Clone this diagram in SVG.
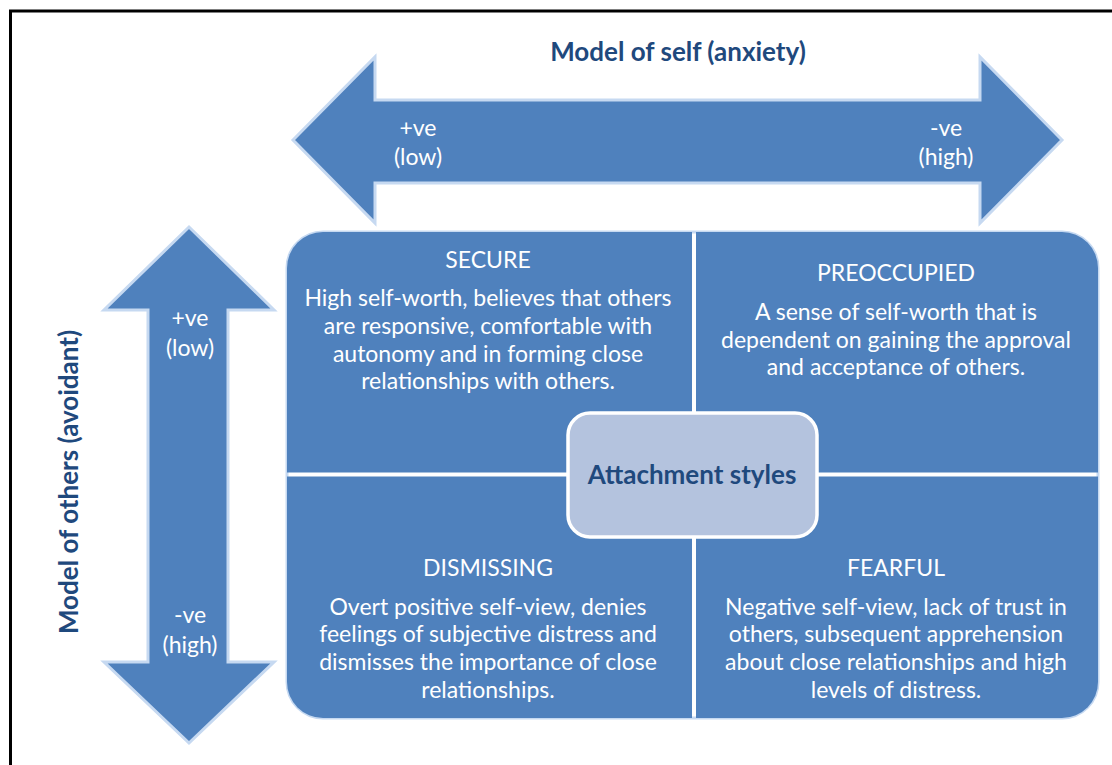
<svg xmlns="http://www.w3.org/2000/svg" width="1112" height="765" viewBox="0 0 1112 765">
  <style>
    .shape { fill: #4f81bd; stroke: #c6d9f1; stroke-width: 3; stroke-linejoin: miter; }
    .quad { fill: #4f81bd; }
    .rim { fill: none; stroke: #c6d9f1; stroke-width: 3; }
    .txt { font-family: Lato, "Liberation Sans", sans-serif; font-size: 23px; fill: #ffffff; text-anchor: middle; }
    .axis { font-family: Lato, "Liberation Sans", sans-serif; font-size: 26px; font-weight: bold; fill: #1f497d; text-anchor: middle; }
    .hub { fill: #b4c3de; stroke: #ffffff; stroke-width: 3.5; }
  </style>
  <rect width="1112" height="765" fill="#ffffff"/>
  <!-- page frame -->
  <path d="M10.5 765 V11 H1112" fill="none" stroke="#000000" stroke-width="3"/>

  <g id="connectors">
    <!-- horizontal double arrow: model of self -->
    <g id="arrow-self">
      <polygon class="shape" points="293,140 375,57 375,100 980,100 980,57 1062,140 980,223 980,183 375,183 375,223"/>
      <text class="txt" x="418" y="136">+ve</text>
      <text class="txt" x="418" y="165">(low)</text>
      <text class="txt" x="946" y="136">-ve</text>
      <text class="txt" x="946" y="165">(high)</text>
    </g>
    <!-- vertical double arrow: model of others -->
    <g id="arrow-others">
      <polygon class="shape" points="189,227 274,310 228,310 228,662 274,662 189,743 104,662 148,662 148,310 104,310"/>
      <text class="txt" x="190" y="326">+ve</text>
      <text class="txt" x="190" y="356">(low)</text>
      <text class="txt" x="190" y="623">-ve</text>
      <text class="txt" x="190" y="653">(high)</text>
    </g>
  </g>

  <text id="title-self" class="axis" x="678" y="61">Model of self (anxiety)</text>
  <text id="title-others" class="axis" transform="translate(78 482) rotate(-90)">Model of others (avoidant)</text>

  <!-- light rim around the outer edge of the four quadrants -->
  <rect class="rim" x="287" y="232" width="811" height="486" rx="36" ry="36"/>

  <g id="secure">
    <path class="quad" d="M287 472.5 V268 A36 36 0 0 1 323 232 H692 V472.5 Z"/>
    <text class="txt" x="488" y="268">SECURE</text>
    <text class="txt" x="488" y="306">High self-worth, believes that others</text>
    <text class="txt" x="488" y="334">are responsive, comfortable with</text>
    <text class="txt" x="488" y="362">autonomy and in forming close</text>
    <text class="txt" x="488" y="389">relationships with others.</text>
  </g>

  <g id="preoccupied">
    <path class="quad" d="M696 232 H1062 A36 36 0 0 1 1098 268 V472.5 H696 Z"/>
    <text class="txt" x="896" y="281">PREOCCUPIED</text>
    <text class="txt" x="896" y="320">A sense of self-worth that is</text>
    <text class="txt" x="896" y="348">dependent on gaining the approval</text>
    <text class="txt" x="896" y="375">and acceptance of others.</text>
  </g>

  <g id="dismissing">
    <path class="quad" d="M287 476.5 H692 V718 H323 A36 36 0 0 1 287 682 Z"/>
    <text class="txt" x="488" y="576">DISMISSING</text>
    <text class="txt" x="488" y="615">Overt positive self-view, denies</text>
    <text class="txt" x="488" y="642">feelings of subjective distress and</text>
    <text class="txt" x="488" y="670">dismisses the importance of close</text>
    <text class="txt" x="488" y="698">relationships.</text>
  </g>

  <g id="fearful">
    <path class="quad" d="M696 476.5 H1098 V682 A36 36 0 0 1 1062 718 H696 Z"/>
    <text class="txt" x="896" y="576">FEARFUL</text>
    <text class="txt" x="896" y="615">Negative self-view, lack of trust in</text>
    <text class="txt" x="896" y="642">others, subsequent apprehension</text>
    <text class="txt" x="896" y="670">about close relationships and high</text>
    <text class="txt" x="896" y="698">levels of distress.</text>
  </g>

  <g id="attachment-styles">
    <rect class="hub" x="568" y="413" width="249" height="124" rx="22" ry="22"/>
    <text class="axis" x="692" y="484">Attachment styles</text>
  </g>
</svg>
